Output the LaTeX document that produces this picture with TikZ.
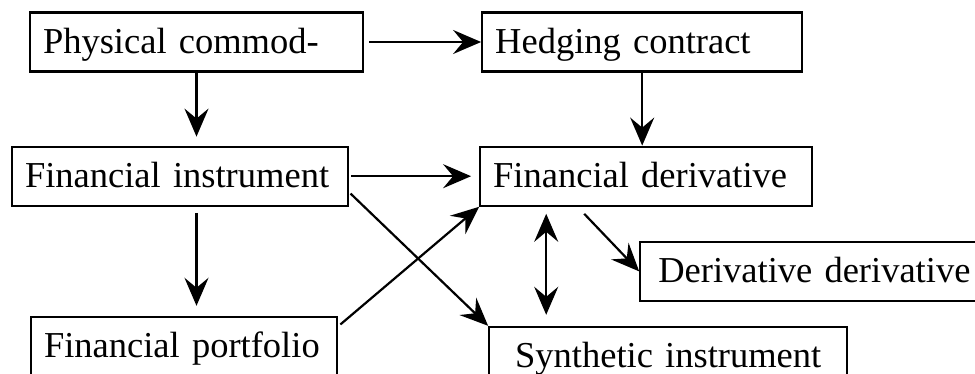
\documentclass[tikz,border=0pt]{standalone}
\usepackage{fontspec}
\setmainfont{Liberation Serif}
\usetikzlibrary{positioning}
\usetikzlibrary{arrows.meta}

\begin{document}
\begin{tikzpicture}[
		mybox/.style={
			shape=rectangle,
			draw,
			line width=2.2pt,
			inner xsep=13pt,
			inner ysep=0pt,
			minimum height=59pt,
			text height=30pt,
			text depth=7pt,
			align=left,
			font={\fontsize{36.5}{44}\selectfont}
		},
		myarrow/.style={
			-{Stealth[length=28pt,width=24pt,inset=10pt]},
			line width=2.2pt
		},
		mydouble/.style={
			{Stealth[length=28pt,width=24pt,inset=10pt]}-{Stealth[length=28pt,width=24pt,inset=10pt]},
			line width=2.2pt
		}
		]
		
		\clip (0pt,0pt) rectangle (975pt,-374pt);
		
		\node[mybox, text width=307pt] (physical) at (196.5pt,-42pt) {Physical commod-};
		
		\node[
		mybox,
		right=117pt of physical,
		text width=294pt
		] (hedging) {Hedging contract};
		
		\node[
		mybox,
		below=73pt of physical,
		xshift=-16.5pt,
		text width=310pt
		] (instrument) {Financial instrument};
		
		\node[
		mybox,
		right=130pt of instrument,
		text width=306pt
		] (derivative) {Financial derivative};
		
		\node[
		mybox,
		below=109pt of instrument,
		xshift=4pt,
		text width=280pt
		] (portfolio) {Financial portfolio};
		
		\node[
		mybox,
		below=34pt of derivative,
		anchor=north west,
		xshift=-7pt,
		inner xsep=18pt,
		text width=330pt
		] (derderiv) {Derivative derivative};
		
		\node[
		mybox,
		below=119pt of derivative,
		xshift=22pt,
		text width=332pt,
		align=center
		] (synthetic) {Synthetic instrument};
		
		%%%%%%%%%%
		
		\draw[myarrow, shorten <=5pt] (physical) -- (hedging);
		\draw[myarrow, shorten >=9pt] (physical.south) -- (physical.south |- instrument.north);
		\draw[myarrow] (hedging.south) -- (hedging.south |- derivative.north);
		
		\draw[myarrow, shorten <=2pt, shorten >=8pt] (instrument) -- (derivative);
		\draw[myarrow, shorten <=6pt, shorten >=10pt] (instrument.south -| physical.south) -- (portfolio.north -| physical.south);
		\draw[myarrow, shorten <=2pt] ([yshift=-16pt]instrument.east) -- (synthetic.north west);
		\draw[myarrow, shorten <=3pt] ([yshift=20pt]portfolio.east) -- (derivative.south west);
		
		\draw[myarrow] ([xshift=-62pt,yshift=-7pt]derivative.south) -- (derderiv.west);
		\draw[mydouble, shorten <=7pt, shorten >=11pt] ([xshift=-100pt]derivative.south) -- ([xshift=-100pt]derivative.south |- synthetic.north);
		
	\end{tikzpicture}
\end{document}
